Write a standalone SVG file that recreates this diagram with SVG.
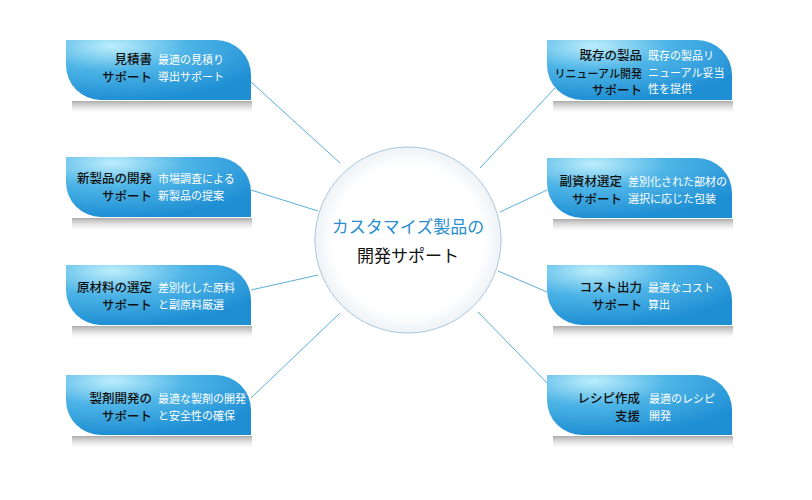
<svg xmlns="http://www.w3.org/2000/svg" width="812" height="500" viewBox="0 0 812 500">
<defs>
<radialGradient id="g" cx="0.25" cy="0.1" r="0.9">
<stop offset="0" stop-color="#bdeefc"/><stop offset="0.45" stop-color="#4db4e6"/><stop offset="1" stop-color="#1f8fd4"/>
</radialGradient>
<linearGradient id="sh" x1="0" y1="0" x2="0" y2="1">
<stop offset="0" stop-color="#888" stop-opacity="0.7"/><stop offset="1" stop-color="#ccc" stop-opacity="0"/>
</linearGradient>
<radialGradient id="c" cx="0.5" cy="0.5" r="0.5">
<stop offset="0.8" stop-color="#ffffff"/><stop offset="1" stop-color="#eef3f7"/>
</radialGradient>
<path id="shape" d="M0,0 H150 A35,35 0 0 1 185,35 V60 H35 A35,35 0 0 1 0,25 Z"/>
</defs>
<style>
.k{font-family:"Noto Sans CJK JP",sans-serif;font-size:12.5px;font-weight:500;fill:#111;text-anchor:end}
.w{font-family:"Noto Sans CJK JP",sans-serif;font-size:11px;fill:#fff}
.ln{stroke:#5aaedc;stroke-width:1;fill:none}
</style>
<rect width="812" height="500" fill="#fff"/>
<g id="connectors" class="ln">
<line x1="251" y1="82" x2="340" y2="163"/>
<line x1="251" y1="190" x2="318" y2="211"/>
<line x1="251" y1="290" x2="318" y2="275"/>
<line x1="251" y1="398" x2="340" y2="313"/>
<line x1="555" y1="88" x2="480" y2="168"/>
<line x1="547" y1="190" x2="500" y2="212"/>
<line x1="547" y1="292" x2="498" y2="271"/>
<line x1="547" y1="383" x2="478" y2="312"/>
</g>
<g id="center">
<circle cx="408" cy="240" r="93" fill="url(#c)" stroke="#a9c7dd" stroke-width="1"/>
<text x="408" y="233" text-anchor="middle" font-family="Noto Sans CJK JP,sans-serif" font-size="17" fill="#2a8ed0">カスタマイズ製品の</text>
<text x="408" y="262" text-anchor="middle" font-family="Noto Sans CJK JP,sans-serif" font-size="17" fill="#111">開発サポート</text>
</g>
<g id="n1" transform="translate(66,40)"><rect x="6" y="61" width="180" height="12" fill="url(#sh)"/><use href="#shape" fill="url(#g)"/>
<text class="k" x="86" y="24">見積書</text><text class="k" x="86" y="42">サポート</text>
<text class="w" x="92" y="24">最適の見積り</text><text class="w" x="92" y="41">導出サポート</text></g>
<g id="n2" transform="translate(66,157)"><rect x="6" y="61" width="180" height="12" fill="url(#sh)"/><use href="#shape" fill="url(#g)"/>
<text class="k" x="86" y="26">新製品の開発</text><text class="k" x="86" y="44">サポート</text>
<text class="w" x="92" y="26">市場調査による</text><text class="w" x="92" y="43">新製品の提案</text></g>
<g id="n3" transform="translate(66,265)"><rect x="6" y="61" width="180" height="12" fill="url(#sh)"/><use href="#shape" fill="url(#g)"/>
<text class="k" x="86" y="27">原材料の選定</text><text class="k" x="86" y="45">サポート</text>
<text class="w" x="92" y="27">差別化した原料</text><text class="w" x="92" y="44">と副原料厳選</text></g>
<g id="n4" transform="translate(66,375)"><rect x="6" y="61" width="180" height="12" fill="url(#sh)"/><use href="#shape" fill="url(#g)"/>
<text class="k" x="86" y="28">製剤開発の</text><text class="k" x="86" y="46">サポート</text>
<text class="w" x="92" y="28">最適な製剤の開発</text><text class="w" x="92" y="45">と安全性の確保</text></g>
<g id="n5" transform="translate(547,40)"><rect x="6" y="61" width="180" height="12" fill="url(#sh)"/><use href="#shape" fill="url(#g)"/>
<text class="k" x="95" y="20">既存の製品</text><text class="k" x="95" y="38" style="font-size:11px">リニューアル開発</text><text class="k" x="95" y="55">サポート</text>
<text class="w" x="101" y="20">既存の製品リ</text><text class="w" x="101" y="37">ニューアル妥当</text><text class="w" x="101" y="53">性を提供</text></g>
<g id="n6" transform="translate(547,158)"><rect x="6" y="61" width="180" height="12" fill="url(#sh)"/><use href="#shape" fill="url(#g)"/>
<text class="k" x="75" y="28">副資材選定</text><text class="k" x="75" y="46">サポート</text>
<text class="w" x="81" y="28">差別化された部材の</text><text class="w" x="81" y="45">選択に応じた包装</text></g>
<g id="n7" transform="translate(547,265)"><rect x="6" y="61" width="180" height="12" fill="url(#sh)"/><use href="#shape" fill="url(#g)"/>
<text class="k" x="95" y="27">コスト出力</text><text class="k" x="95" y="45">サポート</text>
<text class="w" x="101" y="27">最適なコスト</text><text class="w" x="101" y="44">算出</text></g>
<g id="n8" transform="translate(547,375)"><rect x="6" y="61" width="180" height="12" fill="url(#sh)"/><use href="#shape" fill="url(#g)"/>
<text class="k" x="93" y="28">レシピ作成</text><text class="k" x="93" y="46">支援</text>
<text class="w" x="102" y="28">最適のレシピ</text><text class="w" x="102" y="45">開発</text></g>
</svg>
